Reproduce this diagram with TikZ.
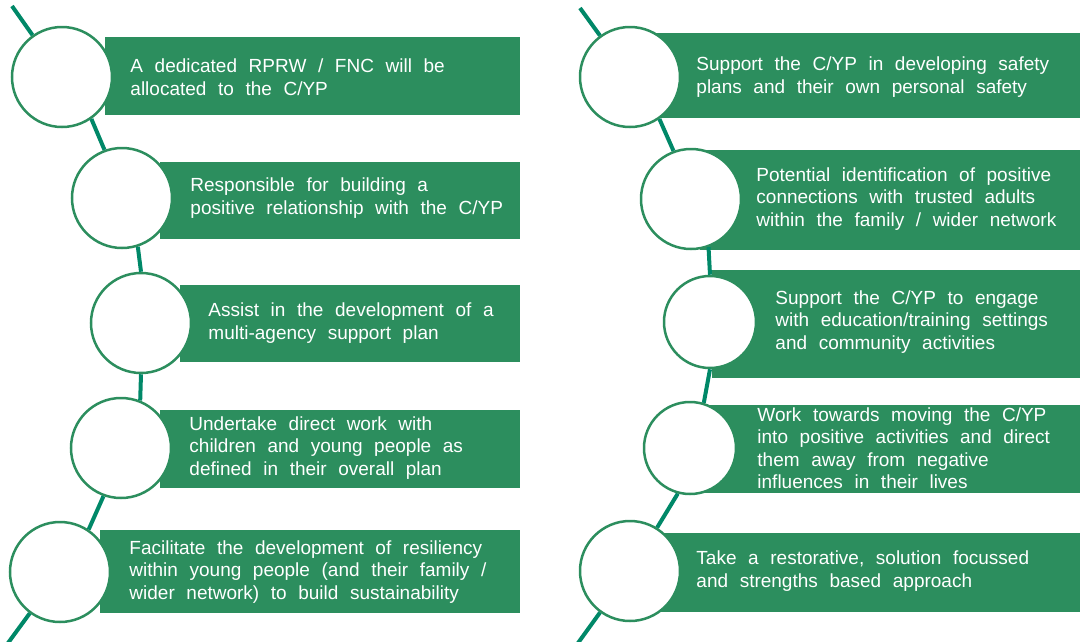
\documentclass[tikz,border=0pt]{standalone}
\usepackage{fontspec}
\setmainfont{Liberation Sans}[WordSpace=2.2]
\usepackage{tikz}
\usetikzlibrary{positioning}
\definecolor{boxgreen}{RGB}{44,142,94}
\definecolor{linkteal}{RGB}{0,136,104}

\begin{document}
\begin{tikzpicture}[x=1pt,y=-1pt,auto]
	\tikzstyle{ring}=[circle, draw=boxgreen, fill=white, line width=2.5pt, minimum size=100pt, inner sep=0pt]
	\tikzstyle{txt}=[align=left, inner sep=0pt, text=white, font=\fontsize{19pt}{22.5pt}\selectfont]
	\tikzstyle{every edge}=[draw=linkteal, line width=4pt]
	\useasboundingbox (0,0) rectangle (1080,641);
	
	% bars
	\fill[boxgreen] (105,37) rectangle (520,115);
	\fill[boxgreen] (160,162) rectangle (520,239);
	\fill[boxgreen] (180,285) rectangle (520,362);
	\fill[boxgreen] (160,410) rectangle (520,488);
	\fill[boxgreen] (100,530) rectangle (520,613);
	\fill[boxgreen] (640,33) rectangle (1080,118);
	\fill[boxgreen] (700,150) rectangle (1080,250);
	\fill[boxgreen] (712,270) rectangle (1080,378);
	\fill[boxgreen] (690,405) rectangle (1080,493);
	\fill[boxgreen] (640,533) rectangle (1080,612);
	
	\coordinate (ltop) at (12,6);
	\coordinate (lbot) at (8,643);
	\coordinate (rtop) at (580,8);
	\coordinate (rbot) at (578,643);
	
	% left column
	\node[ring] (l1) at (62,77) {};
	\node[ring] (l2) at (122,198) {};
	\node[ring] (l3) at (141,323) {};
	\node[ring] (l4) at (121,448) {};
	\node[ring] (l5) at (60,572) {};
	
	% right column
	\node[ring] (r1) at (630,77) {};
	\node[ring] (r2) at (691,199) {};
	\node[ring, minimum size=92pt] (r3) at (710,322) {};
	\node[ring, minimum size=92pt] (r4) at (690,448) {};
	\node[ring] (r5) at (630,571) {};
	
	\node[txt] (tl1) [right=17pt of l1] {A dedicated RPRW / FNC will be\\allocated to the C/YP};
	\node[txt] (tl2) [right=17pt of l2] {Responsible for building a\\positive relationship with the C/YP};
	\node[txt] (tl3) [right=16pt of l3] {Assist in the development of a\\multi-agency support plan};
	\node[txt] (tl4) [right=17pt of l4] {Undertake direct work with\\children and young people as\\defined in their overall plan};
	\node[txt] (tl5) [right=18pt of l5] {Facilitate the development of resiliency\\within young people (and their family /\\wider network) to build sustainability};
	
	\node[txt] (tr1) [right=15pt of r1] {Support the C/YP in developing safety\\plans and their own personal safety};
	\node[txt] (tr2) [right=14pt of r2] {Potential identification of positive\\connections with trusted adults\\within the family / wider network};
	\node[txt] (tr3) [right=18pt of r3] {Support the C/YP to engage\\with education/training settings\\and community activities};
	\node[txt] (tr4) [right=20pt of r4] {Work towards moving the C/YP\\into positive activities and direct\\them away from negative\\influences in their lives};
	\node[txt] (tr5) [right=15pt of r5] {Take a restorative, solution focussed\\and strengths based approach};
	
	\path (ltop) edge (l1);
	\path (l1.-55) edge (l2.110);
	\path (l2.-72) edge (l3.north);
	\path (l3.south) edge (l4.68);
	\path (l4.-110) edge (l5.56);
	\path (l5) edge (lbot);
	
	\path (rtop) edge (r1);
	\path (r1.-55) edge (r2.110);
	\path (r2.-70) edge (r3.north);
	\path (r3.south) edge (r4.73);
	\path (r4.-105) edge (r5.58);
	\path (r5) edge (rbot);
	
\end{tikzpicture}
\end{document}
